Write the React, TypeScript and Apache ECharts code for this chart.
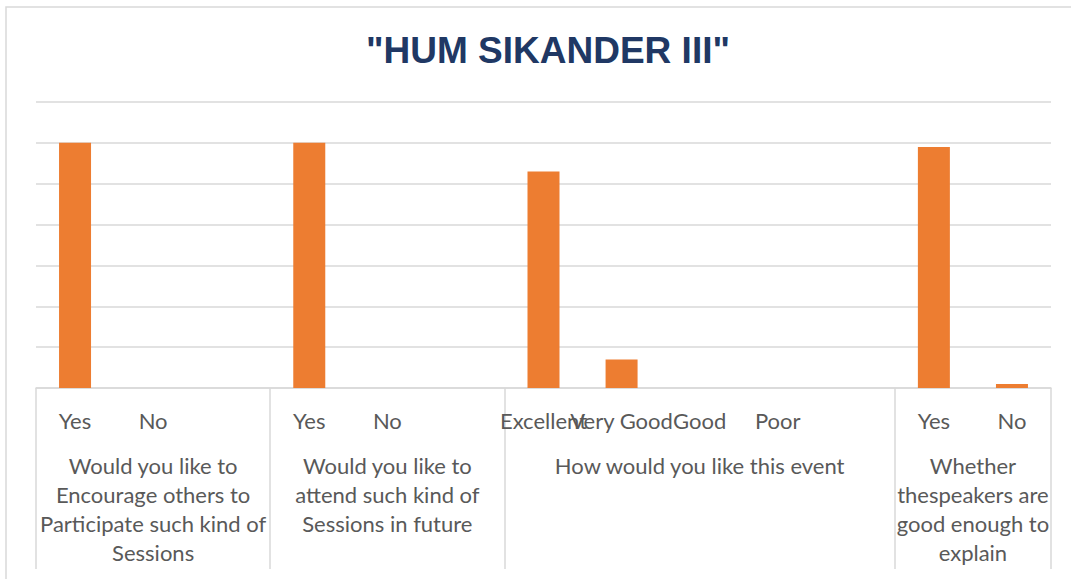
import React, { useEffect, useRef } from "react";
import * as echarts from "echarts";

const TITLE = '"HUM SIKANDER III"';

// sub-level categories (13 slots, empty strings are blank slots)
const answerLabels = [
  "Yes", "No", "",
  "Yes", "No", "",
  "Excellent", "Very Good", "Good", "Poor", "",
  "Yes", "No",
];

// number of responses per slot
const responseCounts: (number | null)[] = [
  60, 0, null,
  60, 0, null,
  53, 7, 0, 0, null,
  59, 1,
];

// top-level question groups
const groupNames = [
  "Would you like to\nEncourage others to\nParticipate such kind of\nSessions",
  "Would you like to\nattend such kind of\nSessions in future",
  "How would you like this event",
  "Whether\nthespeakers are\ngood enough to\nexplain",
];
// group centres and boundaries measured in slot units
const groupCenters = [1.5, 4.5, 8.5, 12];
const groupBoundaries = [0, 3, 6, 11, 13];

const Y_MAX = 70;
const Y_STEP = 10;

const LABEL_FONT = "Lato, 'Noto Sans', sans-serif";

export default function App() {
  const ref = useRef<HTMLDivElement>(null);

  useEffect(() => {
    if (!ref.current) return;
    const chart = echarts.init(ref.current, null, { renderer: "svg" });
    chart.setOption({
      animation: false,
      backgroundColor: "#ffffff",
      title: {
        text: TITLE,
        left: 543,
        top: 27,
        textAlign: "center",
        textStyle: {
          fontFamily: "'Liberation Sans', Arial, sans-serif",
          fontWeight: "bold",
          fontSize: 37,
          color: "#203864",
        },
      },
      graphic: [
        {
          type: "rect",
          shape: { x: 6, y: 7, width: 1200, height: 700 },
          style: { fill: "none", stroke: "#d9d9d9", lineWidth: 1.5 },
          silent: true,
        },
      ],
      grid: { left: 36, right: 20, top: 102, bottom: 191, containLabel: false },
      xAxis: [
        {
          type: "category",
          data: answerLabels,
          axisLine: { show: true, lineStyle: { color: "#d9d9d9", width: 1.5 } },
          axisTick: { show: false },
          axisLabel: {
            interval: 0,
            margin: 21,
            color: "#595959",
            fontFamily: LABEL_FONT,
            fontSize: 22,
            lineHeight: 22,
          },
          splitLine: { show: false },
        },
        {
          type: "value",
          min: 0,
          max: groupBoundaries[groupBoundaries.length - 1],
          position: "bottom",
          axisLine: { show: false },
          splitLine: { show: false },
          axisTick: {
            show: true,
            customValues: groupBoundaries,
            length: 181,
            lineStyle: { color: "#d9d9d9", width: 1.5 },
          },
          axisLabel: {
            show: true,
            customValues: groupCenters,
            margin: 63,
            color: "#595959",
            fontFamily: LABEL_FONT,
            fontSize: 22,
            lineHeight: 29,
            align: "center",
            verticalAlign: "top",
            formatter: (v: number) => {
              const i = groupCenters.indexOf(v);
              return i >= 0 ? groupNames[i] : "";
            },
          },
        },
      ],
      yAxis: {
        type: "value",
        min: 0,
        max: Y_MAX,
        interval: Y_STEP,
        axisLine: { show: false },
        axisTick: { show: false },
        axisLabel: { show: false },
        splitLine: { show: true, lineStyle: { color: "#d9d9d9", width: 1.5 } },
      },
      series: [
        {
          type: "bar",
          xAxisIndex: 0,
          data: responseCounts,
          barWidth: 32,
          itemStyle: { color: "#ED7D31" },
        },
      ],
    });
    return () => chart.dispose();
  }, []);

  return (
    <div
      ref={ref}
      style={{ position: "absolute", left: 0, top: 0, width: 1071, height: 579 }}
    />
  );
}
